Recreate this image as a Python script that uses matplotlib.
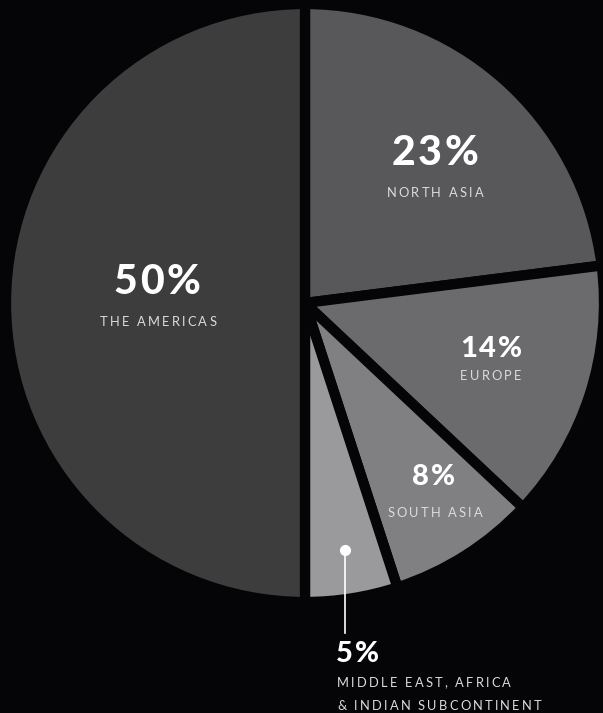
import matplotlib.pyplot as plt
from matplotlib.font_manager import FontProperties, findfont, get_font

regions = ["NORTH ASIA", "EUROPE", "SOUTH ASIA",
           "MIDDLE EAST, AFRICA\n& INDIAN SUBCONTINENT", "THE AMERICAS"]
shares = [23, 14, 8, 5, 50]
colors = ["#58585a", "#6b6b6e", "#808083", "#9a9a9c", "#3d3d3d"]

bg = "#050508"
W, H = 603, 713
DPI = 100

fig = plt.figure(figsize=(W / DPI, H / DPI), dpi=DPI, facecolor=bg)
ax = fig.add_axes([0, 0, 1, 1])
ax.set_facecolor(bg)

cx, cy = 305, H - 303
ax.pie(shares, colors=colors, startangle=90, counterclock=False,
       center=(cx, cy), radius=299, frame=True,
       wedgeprops=dict(edgecolor=bg, linewidth=7.4))
ax.set_xlim(0, W)
ax.set_ylim(0, H)
ax.set_aspect("equal")
ax.axis("off")


def spaced(x, y, s, size, weight="normal", color="white", track=0.0,
           ha="center"):
    """Draw s letter by letter with extra tracking (in em), baseline at y."""
    fp = FontProperties(family="Lato", weight=weight, size=size)
    font = get_font(findfont(fp))
    font.set_size(size, DPI)
    em = size * DPI / 72
    adv = [font.load_char(ord(c)).linearHoriAdvance / 65536 for c in s]
    gap = track * em
    total = sum(adv) + gap * (len(s) - 1)
    x0 = x - total / 2 if ha == "center" else x
    for c, a in zip(s, adv):
        if c != " ":
            ax.text(x0, y, c, fontproperties=fp, color=color,
                    ha="left", va="baseline")
        x0 += a + gap


label_col = "#dcdcdc"
big, mid, small = 29.5, 21, 9.3

# (percent x, percent baseline, percent size, label x, label baseline)
spots = [(435, 165, big, 435, 197),
         (491, 357, mid, 491, 380),
         (434, 485, mid, 435, 517),
         None,
         (157, 294, big, 158, 326)]

for share, name, spot in zip(shares, regions, spots):
    if spot is None:
        continue
    px, pb, ps, lx, lb = spot
    spaced(px, H - pb, f"{share}%", ps, weight="black", track=0.07)
    spaced(lx, H - lb, name, small, color=label_col, track=0.17)

# callout for the small slice
ax.plot([345, 345], [H - 550, H - 633], color="white", lw=1.2)
ax.plot(345, H - 550, "o", color="white", ms=7)
spaced(336, H - 662, f"{shares[3]}%", mid, weight="black", track=0.07,
       ha="left")
for line, base in zip(regions[3].split("\n"), [687, 710]):
    spaced(337, H - base, line, small, color=label_col, track=0.17, ha="left")

fig.savefig("out.png", dpi=DPI, facecolor=bg)
